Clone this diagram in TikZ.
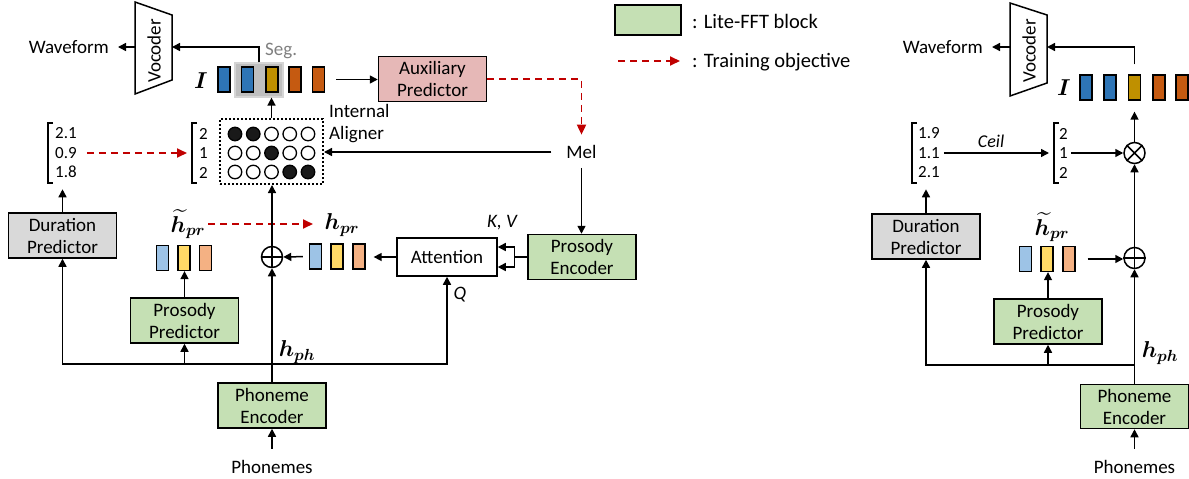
\documentclass[tikz,border=0pt]{standalone}
\usepackage{fix-cm}
\usepackage{amsmath}
\usepackage{fontspec}
\setmainfont{Carlito}
\usetikzlibrary{arrows.meta,calc}
\definecolor{lgreen}{HTML}{C5E0B4}
\definecolor{cpink}{HTML}{E6B8B7}
\definecolor{lgray}{HTML}{D9D9D9}
\definecolor{dred}{HTML}{C00000}
\definecolor{cblue}{HTML}{2E75B6}
\definecolor{cgold}{HTML}{BF9000}
\definecolor{corange}{HTML}{C55A11}
\definecolor{lblue}{HTML}{9DC3E6}
\definecolor{lyellow}{HTML}{FFD966}
\definecolor{lsalmon}{HTML}{F4B183}
\definecolor{seggray}{HTML}{BFBFBF}
\definecolor{segedge}{HTML}{D5D5D5}
\definecolor{segtext}{HTML}{7F7F7F}
\newcommand\fA{\fontsize{19}{22}\selectfont}
\newcommand\fV{\fontsize{17}{19.5}\selectfont}
\newcommand\fL{\fontsize{20.5}{24}\selectfont}
\newcommand\fM{\fontsize{23}{26}\selectfont}
\newcommand\fC{\fontsize{18}{20}\selectfont}
\newcommand\htil{$\widetilde{\boldsymbol{h}\mkern3mu}\mkern-3mu_{\boldsymbol{pr}}$}
\begin{document}
\begin{tikzpicture}[x=1pt,y=-1pt,
  box/.style={draw, line width=1.5pt, minimum width=108pt, minimum height=45pt, align=center, font=\fA, inner sep=0pt},
  gbox/.style={box, fill=lgreen},
  bar/.style={draw, line width=1.3pt, minimum width=12pt, minimum height=25pt, inner sep=0pt},
  arr/.style={line width=1.5pt, -{Triangle[length=8pt,width=8pt]}},
  ln/.style={line width=1.5pt},
  rarr/.style={draw=dred, line width=1.8pt, dash pattern=on 7pt off 5pt, -{Triangle[length=10pt,width=9pt]}},
  lbl/.style={font=\fA, inner sep=0pt},
  vec/.style={font=\fV, align=left, inner sep=0pt, anchor=west},
  brk/.style={line width=1.3pt},
  op/.style={circle, draw, line width=1.5pt, minimum size=21pt, inner sep=0pt},
  dotc/.style={circle, draw, line width=1.3pt, minimum size=13.5pt, inner sep=0pt},
  dot0/.style={dotc, fill=white},
  dot1/.style={dotc, fill=black!90},
  mlab/.style={font=\fM, inner sep=0pt}]
\useasboundingbox (0,0) rectangle (1189,479);

% ---------------- legend ----------------
\node[gbox, minimum width=66pt, minimum height=30pt] (leg1) at (648,20) {};
\node[font=\fL, anchor=west, inner sep=0pt] (legt1) at (692,21) {: Lite-FFT block};
\coordinate (leg2) at (618,61);
\node[font=\fL, anchor=west, inner sep=0pt] (legt2) at (692,62) {: Training objective};
\draw[rarr, shorten >=12pt] (leg2) -- (leg2 -| legt2.west);

% ---------------- left diagram ----------------
\draw[ln, fill=white] (135,2) -- (172,15) -- (172,80) -- (135,94) -- cycle;
\node[lbl, rotate=90] (voc1) at (154,51) {Vocoder};
\coordinate (voc1L) at (135,47);
\coordinate (voc1R) at (172,47);
\node[lbl, anchor=east] (wave1) at (109,47) {Waveform};
\draw[arr, shorten >=9pt] (voc1L) -- (wave1.east);

\node[mlab] (I1) at (201,81) {$\boldsymbol{I}$};
\node[draw=segedge, fill=seggray, line width=1.2pt, minimum width=48pt, minimum height=34pt, inner sep=0pt] (seg) at (259,80) {};
\node[bar, fill=cblue] (b1) at (224,79.5) {};
\node[bar, fill=cblue] (b2) at (247.5,79.5) {};
\node[bar, fill=cgold] (b3) at (272,79.5) {};
\node[bar, fill=corange] (b4) at (295,79.5) {};
\node[bar, fill=corange] (b5) at (318.5,79.5) {};
\node[lbl, text=segtext, anchor=west] (seglbl) at (265,51) {Seg.};
\draw[arr] (seg.north) |- (voc1R);

\node[box, fill=cpink] (aux) at (432.5,79) {Auxiliary\\Predictor};
\draw[arr, shorten <=11pt] (b5.east) -- (b5.east -| aux.west);

\node[lbl] (mel) at (581.5,152) {Mel};
\draw[rarr, shorten >=10.5pt] (aux.east) -| (mel.north);

% aligner
\node[draw, dash pattern=on 2pt off 2pt, line width=2pt, minimum width=103pt, minimum height=65pt, inner sep=0pt] (al) at (271.5,151.5) {};
\foreach \y/\pat [count=\r] in {134/{1,1,0,0,0},153/{0,0,1,0,0},172/{0,0,0,1,1}}{
  \foreach \f [count=\c] in \pat {
    \node[dot\f] (c\r\c) at ({235+18.25*(\c-1)},\y) {};
  }
}
\node[lbl, anchor=west, align=left] (allbl) at (329,124) {Internal\\Aligner};
\draw[arr, shorten <=15pt] (mel.west) -- (mel.west -| al.east);
\draw[arr] (al.north) -- (al.north |- seg.south);

% vectors
\node[vec] (dur1) at (55,153) {2.1\\0.9\\1.8};
\draw[brk] ($(dur1.west)+(-2,-30)$) -- ($(dur1.west)+(-7,-30)$) -- ($(dur1.west)+(-7,30)$) -- ($(dur1.west)+(-2,30)$);
\node[vec] (int1) at (199,153) {2\\1\\2};
\draw[brk] ($(int1.west)+(-2,-30)$) -- ($(int1.west)+(-7,-30)$) -- ($(int1.west)+(-7,30)$) -- ($(int1.west)+(-2,30)$);
\draw[rarr, shorten <=10pt, shorten >=12pt] (dur1.east) -- (dur1.east -| int1.west);

% duration predictor
\node[box, fill=lgray] (dp) at (62.5,235.5) {Duration\\Predictor};
\draw[arr] (dp.north) -- ($(dp.north |- dur1.south)+(0,11)$);

% prosody predictor
\node[gbox] (pp) at (184.5,320.5) {Prosody\\Predictor};
\node[bar, fill=lblue] (tb1) at (162.5,258) {};
\node[bar, fill=lyellow] (tb2) at (184,258) {};
\node[bar, fill=lsalmon] (tb3) at (205.5,258) {};
\draw[arr] (pp.north) -- (pp.north |- tb2.south);
\node[mlab] (ht1) at (188,224) {\htil};
\node[mlab] (hp1) at (342,225) {$\boldsymbol{h}_{\boldsymbol{pr}}$};
\coordinate (ra1) at (208,224);
\coordinate (ra2) at (313,224);
\draw[rarr] (ra1) -- (ra2);

% h_pr branch
\node[op] (plus1) at (272,257) {};
\draw[ln] (plus1.north) -- (plus1.south) (plus1.west) -- (plus1.east);
\node[bar, fill=lblue] (hb1) at (315.5,256.5) {};
\node[bar, fill=lyellow] (hb2) at (337,256.5) {};
\node[bar, fill=lsalmon] (hb3) at (359,256.5) {};
\draw[arr, shorten <=6pt] (hb1.west) -- (plus1.east);
\node[box, fill=white, minimum width=100pt, minimum height=38pt] (att) at (447,257) {Attention};
\draw[arr, shorten >=8pt] (att.west) -- (att.west -| hb3.east);
\node[gbox] (penc) at (582,257) {Prosody\\Encoder};
\draw[arr, shorten <=9pt] (mel.south) -- (mel.south |- penc.north);
\coordinate (fk) at ($(penc.west)+(-13,0)$);
\draw[ln] (penc.west) -- (fk);
\draw[arr] (fk) |- ($(att.east)+(0,-10)$);
\draw[arr] (fk) |- ($(att.east)+(0,10)$);
\node[lbl] (kv) at (502,223) {\itshape K, V};

% phoneme encoder
\node[gbox] (pe) at (272,405.5) {Phoneme\\Encoder};
\node[lbl] (ph1) at (272,467) {Phonemes};
\draw[arr, shorten <=11.5pt] (ph1.north) -- (pe.south);
\draw[arr] (pe.north) -- (plus1.south);
\draw[arr] (plus1.north) -- (plus1.north |- al.south);
\coordinate (hj1) at (272,364);
\draw[arr] (hj1) -| (dp.south);
\draw[arr] (hj1) -| (att.south);
\draw[arr] (pp.south |- hj1) -- (pp.south);
\node[mlab] (hph1) at (297,352) {$\boldsymbol{h}_{\boldsymbol{ph}}$};
\node[lbl] (q) at (460,295) {\itshape Q};

% ---------------- right diagram ----------------
\draw[ln, fill=white] (1010,3) -- (1047,15) -- (1047,83) -- (1010,96) -- cycle;
\node[lbl, rotate=90] (voc2) at (1029,51) {Vocoder};
\coordinate (voc2L) at (1010,47);
\coordinate (voc2R) at (1047,47);
\node[lbl, anchor=east] (wave2) at (983,47) {Waveform};
\draw[arr, shorten >=9pt] (voc2L) -- (wave2.east);

\node[mlab] (I2) at (1064,88) {$\boldsymbol{I}$};
\node[bar, fill=cblue] (c1) at (1086,87.5) {};
\node[bar, fill=cblue] (c2) at (1110,87.5) {};
\node[bar, fill=cgold] (c3) at (1134.5,87.5) {};
\node[bar, fill=corange] (c4) at (1159,87.5) {};
\node[bar, fill=corange] (c5) at (1182,87.5) {};
\draw[arr, shorten <=10pt] (c3.north) |- (voc2R);

\node[op] (times) at (1134.5,153) {};
\draw[ln] (times.north west) -- (times.south east) (times.north east) -- (times.south west);
\draw[arr, shorten >=11pt] (times.north) -- (c3.south);

\node[vec] (dur2) at (918,153) {1.9\\1.1\\2.1};
\draw[brk] ($(dur2.west)+(-1,-30)$) -- ($(dur2.west)+(-6,-30)$) -- ($(dur2.west)+(-6,30)$) -- ($(dur2.west)+(-1,30)$);
\node[vec] (int2) at (1059,153) {2\\1\\2};
\draw[brk] ($(int2.west)+(0,-30)$) -- ($(int2.west)+(-5,-30)$) -- ($(int2.west)+(-5,30)$) -- ($(int2.west)+(0,30)$);
\draw[arr, shorten <=4pt, shorten >=10pt] (dur2.east) -- (dur2.east -| int2.west);
\node[font=\fC, inner sep=0pt] (ceil) at (991,141) {\itshape Ceil};
\draw[arr, shorten <=3pt] (int2.east) -- (int2.east -| times.west);

\node[box, fill=lgray] (dp2) at (926,236.5) {Duration\\Predictor};
\draw[arr] (dp2.north) -- ($(dp2.north |- dur2.south)+(0,11)$);

\node[mlab] (ht2) at (1052,227) {\htil};
\node[bar, fill=lblue] (d1) at (1025.5,259) {};
\node[bar, fill=lyellow] (d2) at (1047,259) {};
\node[bar, fill=lsalmon] (d3) at (1069,259) {};
\node[op] (plus2) at (1134.5,258) {};
\draw[ln] (plus2.north) -- (plus2.south) (plus2.west) -- (plus2.east);
\draw[arr, shorten <=12pt] (d3.east) -- (d3.east -| plus2.west);

\node[gbox] (pp2) at (1048,321.5) {Prosody\\Predictor};
\draw[arr] (pp2.north) -- (pp2.north |- d2.south);

\node[gbox, minimum height=44pt] (pe2) at (1134.5,406.5) {Phoneme\\Encoder};
\node[lbl] (ph2) at (1134.5,467) {Phonemes};
\draw[arr, shorten <=11.5pt] (ph2.north) -- (pe2.south);
\draw[arr] (pe2.north) -- (plus2.south);
\draw[arr] (plus2.north) -- (times.south);
\coordinate (hj2) at (1134.5,365);
\draw[arr] (hj2) -| (dp2.south);
\draw[arr] (pp2.south |- hj2) -- (pp2.south);
\node[mlab] (hph2) at (1160,353) {$\boldsymbol{h}_{\boldsymbol{ph}}$};
\end{tikzpicture}
\end{document}
